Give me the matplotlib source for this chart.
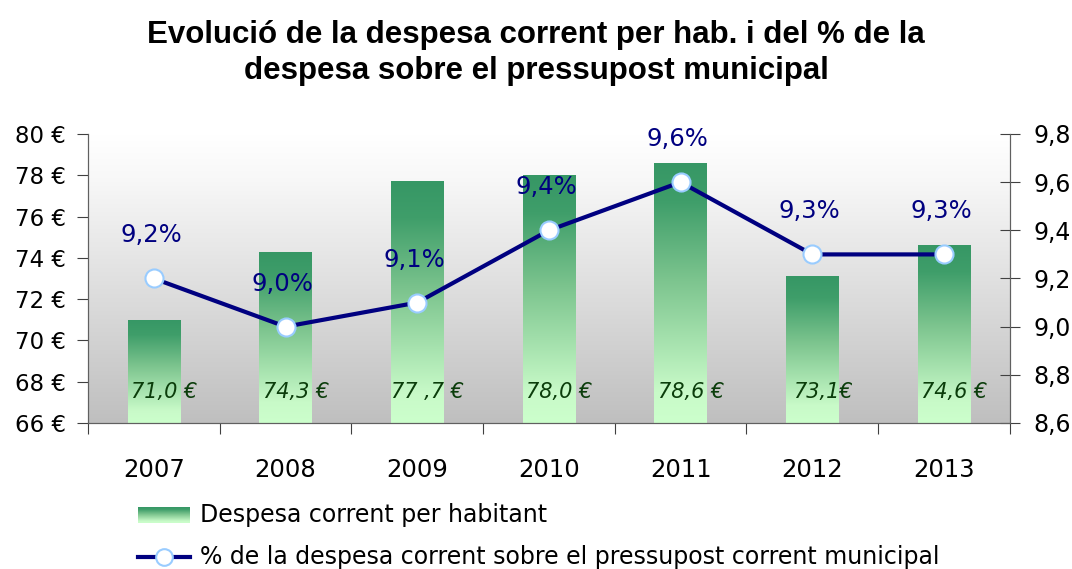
import numpy as np
import matplotlib
matplotlib.use("Agg")
import matplotlib.pyplot as plt
from matplotlib.colors import LinearSegmentedColormap
from matplotlib.lines import Line2D

years = ["2007", "2008", "2009", "2010", "2011", "2012", "2013"]
despesa = [71.0, 74.3, 77.7, 78.0, 78.6, 73.1, 74.6]
despesa_labels = ["71,0 €", "74,3 €", "77 ,7 €", "78,0 €", "78,6 €", "73,1€", "74,6 €"]
percent = [9.2, 9.0, 9.1, 9.4, 9.6, 9.3, 9.3]
left_ticks = [66, 68, 70, 72, 74, 76, 78, 80]
right_ticks = [8.6, 8.8, 9.0, 9.2, 9.4, 9.6, 9.8]

title = "Evolució de la despesa corrent per hab. i del % de la\ndespesa sobre el pressupost municipal"
leg_bar = "Despesa corrent per habitant"
leg_line = "% de la despesa corrent sobre el pressupost corrent municipal"

navy = "#000080"
bar_cmap = LinearSegmentedColormap.from_list(
    "bars", [(0, "#ccffcc"), (0.12, "#c8fac8"), (0.55, "#7cc48e"), (0.85, "#3f9e6a"), (1, "#369765")])
bg_cmap = LinearSegmentedColormap.from_list("bg", [(0, "#bfbfbf"), (0.85, "#f8f8f8"), (1, "#ffffff")])

fig = plt.figure(figsize=(10.72, 5.69), dpi=100)
fig.patch.set_facecolor("white")
ax = fig.add_axes([0.0821, 0.2566, 0.8599, 0.5079])

x = np.arange(len(years))
ax.set_xlim(-0.5, len(years) - 0.5)
ax.set_ylim(66, 80)

# background gradient
grad = np.linspace(0, 1, 256).reshape(-1, 1)
ax.imshow(grad, cmap=bg_cmap, origin="lower", aspect="auto",
          extent=[-0.5, len(years) - 0.5, 66, 80], zorder=0)

bars = ax.bar(x, np.array(despesa) - 66, bottom=66, width=0.4, color="none", zorder=2)
for b in bars:
    bx, by = b.get_x(), b.get_y()
    im = ax.imshow(grad, cmap=bar_cmap, origin="lower", aspect="auto",
                   extent=[bx, bx + b.get_width(), by, by + b.get_height()], zorder=2)
    im.set_clip_path(b)

for xi, lab in zip(x, despesa_labels):
    ax.text(xi + 0.08, 67.5, lab, ha="center", va="center", fontsize=15,
            style="italic", color="#0b3d0b", zorder=5)

ax.set_yticks(left_ticks)
ax.set_yticklabels([f"{t} €" for t in left_ticks])
ax.set_xticks(np.arange(-0.5, len(years), 1.0))
ax.set_xticklabels([])
ax.set_xticks(x, minor=True)
ax.set_xticklabels(years, minor=True)
ax.tick_params(axis="x", which="major", length=8, color="#404040")
ax.tick_params(axis="x", which="minor", length=0, pad=25, labelsize=17.5)
ax.tick_params(axis="y", length=8, pad=8, labelsize=16.5, color="#404040")
for s in ["top"]:
    ax.spines[s].set_visible(False)
for s in ["left", "right", "bottom"]:
    ax.spines[s].set_color("#606060")

ax2 = ax.twinx()
ax2.set_ylim(8.6, 9.8)
ax2.plot(x, percent, color=navy, lw=3, marker="o", ms=13,
         mfc="white", mec="#99ccff", mew=1.5, zorder=6)
for xi, v in zip(x, percent):
    ax2.annotate(f"{v:.1f}%".replace(".", ","), (xi, v), xytext=(-2, 31),
                 textcoords="offset points", ha="center", va="center",
                 fontsize=17.5, color=navy)
ax2.set_yticks(right_ticks)
ax2.set_yticklabels([f"{t:.1f}".replace(".", ",") for t in right_ticks])
ax2.tick_params(axis="y", direction="inout", length=14, pad=10, labelsize=17, color="#404040")
ax2.spines["top"].set_visible(False)
for s in ["left", "right", "bottom"]:
    ax2.spines[s].set_color("#606060")

fig.text(0.5, 0.907, title, ha="center", va="center", fontsize=22.5,
         fontweight="bold", family="Liberation Sans", linespacing=1.25)

# legend
lax = fig.add_axes([138 / 1072, 1 - 523 / 569, 52 / 1072, 16 / 569])
lax.imshow(grad, cmap=bar_cmap, origin="lower", aspect="auto")
lax.axis("off")
fig.text(200 / 1072, 1 - 515 / 569, leg_bar, ha="left", va="center", fontsize=17)
fig.add_artist(Line2D([138 / 1072, 190 / 1072], [1 - 557 / 569] * 2, color=navy, lw=3,
                      transform=fig.transFigure))
fig.add_artist(Line2D([164 / 1072], [1 - 557 / 569], marker="o", ms=12, mfc="white",
                      mec="#99ccff", mew=1.5, transform=fig.transFigure))
fig.text(200 / 1072, 1 - 557 / 569, leg_line, ha="left", va="center", fontsize=17)

fig.savefig("out.png", dpi=100)
